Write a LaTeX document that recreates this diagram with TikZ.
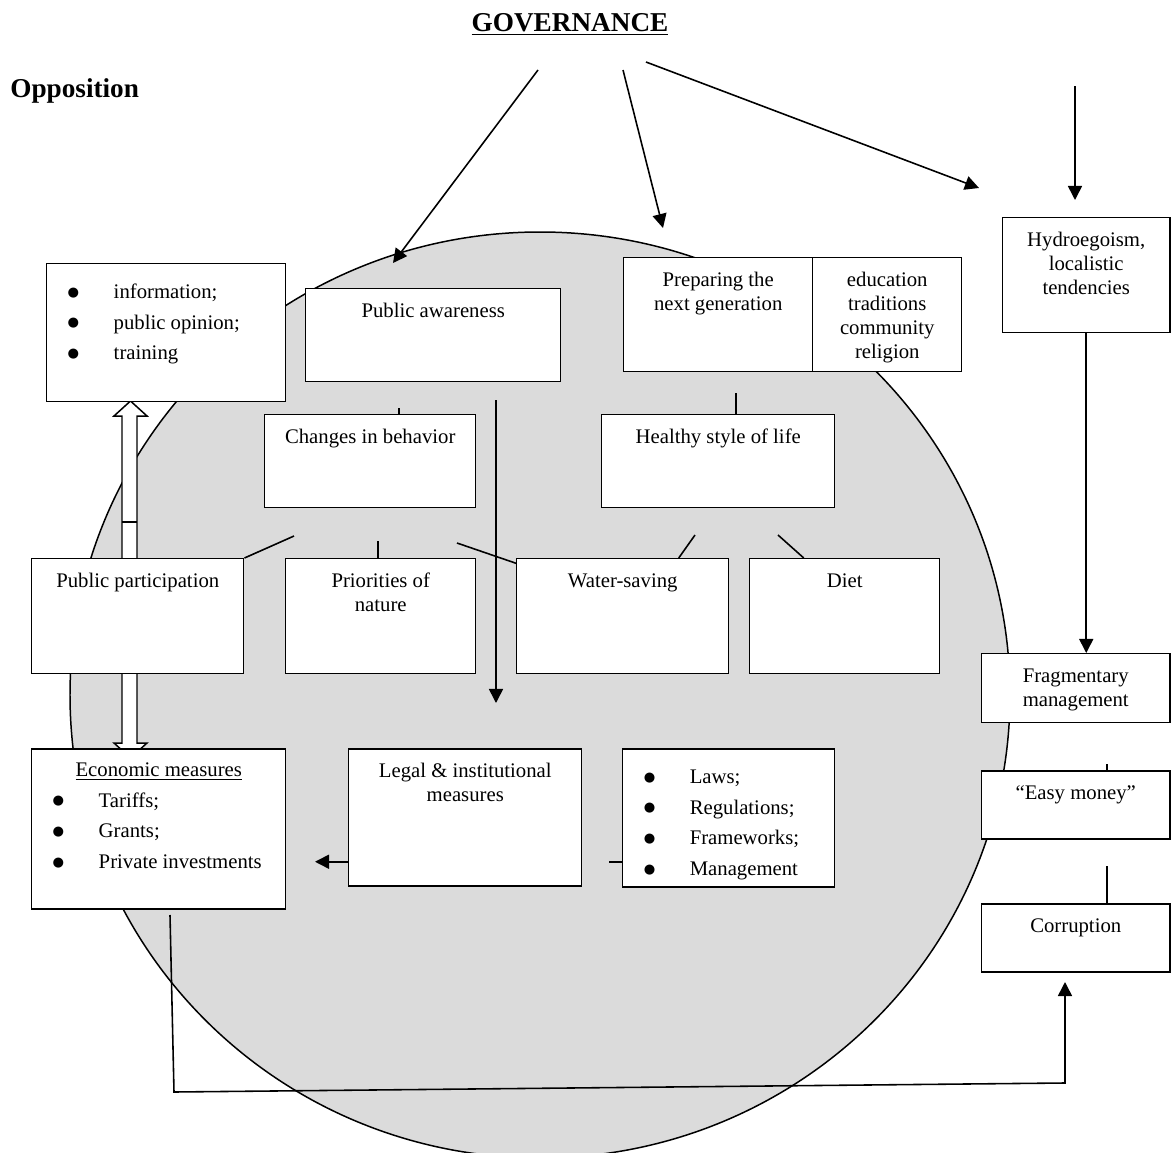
\documentclass[tikz,border=0pt]{standalone}
\usepackage{fontspec}
\setmainfont{Liberation Serif}
\newfontfamily\dotfont{DejaVu Sans}
\usetikzlibrary{arrows.meta}
\newlength\pxu
\setlength\pxu{0.02cm}
\tikzset{
    mybox/.style = {draw=black, line width=0.85pt, fill=white, anchor=north west, inner sep=0pt},
    mytitle/.style = {inner sep=0pt, font=\fontsize{15.5}{18}\bfseries\selectfont},
    edgen/.style = {-{Triangle[length=8pt,width=8pt]}, line width=0.9pt},
    linen/.style = {line width=0.9pt},
    hollow/.style = {draw=black, line width=0.85pt, fill=white},
    blob/.style = {draw=black, line width=0.85pt, fill=black!14},
}
\newcommand{\txtbox}[3]{\parbox[t][#2\pxu][t]{#1\pxu}{\centering\vspace*{7pt}\strut #3}}
\newcommand{\bullbox}[3]{\parbox[t][#2\pxu][t]{#1\pxu}{\fontsize{11.8}{17.4}\selectfont\raggedright\vspace*{7.7pt}\strut #3}}
\newcommand{\bulit}{\hspace*{21\pxu}\makebox[46\pxu][l]{\raisebox{1.3pt}{\dotfont\fontsize{7.5}{7.5}\selectfont ●}}}

\begin{document}
\begin{tikzpicture}[x=0.02cm, y=-0.02cm, font=\fontsize{11.8}{13.6}\selectfont]
\useasboundingbox (0,0) rectangle (1171,1153);
\clip (0,0) rectangle (1171,1153);
\draw[blob] (540,695) ellipse [x radius=470, y radius=463];
%
\node[mytitle, anchor=base] at (570,31) (gov) {\underline{GOVERNANCE}};
\node[mytitle, anchor=base west] at (10,97) (opp) {Opposition};
%
\coordinate (g1) at (538,70);  \coordinate (g1e) at (393,263);
\coordinate (g2) at (623,70);  \coordinate (g2e) at (663,228);
\coordinate (g3) at (646,62);  \coordinate (g3e) at (979,188);
\coordinate (o1) at (1075,86); \coordinate (o1e) at (1075,200);
\draw[edgen] (g1) -- (g1e);
\draw[edgen] (g2) -- (g2e);
\draw[edgen] (g3) -- (g3e);
\draw[edgen] (o1) -- (o1e);
%
% hollow arrows
\draw[hollow] (122,558) -- (122,416) -- (114,416) -- (130.5,401) -- (147,416) -- (137,416) -- (137,558);
\draw[linen] (122,522) -- (137,522);
\draw[hollow] (122,673) -- (122,743) -- (114,743) -- (130.5,758) -- (147,743) -- (137,743) -- (137,673);
%
\node[mybox] at (46,263) (info) {\bullbox{239}{138}{\bulit information;\\ \bulit public opinion;\\ \bulit training}};
\node[mybox] at (305,288) (pa) {\txtbox{255}{93}{Public awareness}};
\node[mybox] at (623,257) (prep) {\txtbox{189}{114}{Preparing the\\ next generation}};
\node[mybox] at (812,257) (edu) {\txtbox{149}{114}{education\\ traditions\\ community\\ religion}};
\node[mybox] at (1002,217) (hydro) {\txtbox{167}{115}{Hydroegoism,\\ localistic\\ tendencies}};
\node[mybox] at (264,414) (chg) {\txtbox{211}{93}{Changes in behavior}};
\node[mybox] at (601,414) (hsl) {\txtbox{233}{93}{Healthy style of life}};
\node[mybox] at (31,558) (pp) {\txtbox{212}{115}{Public participation}};
\node[mybox] at (285,558) (prio) {\txtbox{190}{115}{Priorities of\\ nature}};
\node[mybox] at (516,558) (ws) {\txtbox{212}{115}{Water-saving}};
\node[mybox] at (749,558) (diet) {\txtbox{190}{115}{Diet}};
\node[mybox] at (981,653) (frag) {\txtbox{188}{69}{Fragmentary\\ management}};
\node[mybox] at (31,748) (econ) {\parbox[t][160\pxu][t]{254\pxu}{\fontsize{11.8}{17.4}\selectfont\centering\vspace*{3.7pt}\strut\underline{Economic measures}\par\raggedright\bulit Tariffs;\\ \bulit Grants;\\ \bulit Private investments}};
\node[mybox] at (348,748) (legal) {\txtbox{233}{137}{Legal \& institutional\\ measures}};
\node[mybox] at (622,748) (laws) {\bullbox{212}{138}{\bulit Laws;\\ \bulit Regulations;\\ \bulit Frameworks;\\ \bulit Management}};
\node[mybox] at (981,770) (easy) {\txtbox{188}{68}{``Easy money''}};
\node[mybox] at (981,903) (corr) {\txtbox{188}{68}{Corruption}};
%
\coordinate (t1) at (399,408);
\coordinate (t2) at (736,393);
\coordinate (a1) at (496,400); \coordinate (a1e) at (496,703);
\coordinate (c1) at (294,536);
\coordinate (c2) at (378,541);
\coordinate (c3) at (457,543);
\coordinate (h1) at (695,535);
\coordinate (h2) at (778,535);
\coordinate (m1) at (1107,764);
\coordinate (m2) at (1107,866);
\coordinate (e1) at (170,915); \coordinate (e2) at (174,1092);
\coordinate (e3) at (1065,1083); \coordinate (e4) at (1065,982);
%
\draw[linen] (t1) -- (t1 |- chg.north);
\draw[linen] (t2) -- (t2 |- hsl.north);
\draw[edgen] (a1) -- (a1e);
\draw[linen] (c1) -- (pp.north east);
\draw[linen] (c2) -- (c2 |- prio.north);
\draw[linen] (c3) -- ([yshift=-3pt]ws.north west);
\draw[linen] (h1) -- ([xshift=1.12cm]ws.north);
\draw[linen] (h2) -- ([xshift=-0.82cm]diet.north);
\draw[edgen] ([yshift=-0.89cm]legal.west) -- ++(-33,0);
\draw[linen] ([yshift=-0.88cm]laws.west) -- ++(-13,0);
\draw[edgen] (hydro.south) -- (hydro.south |- frag.north);
\draw[linen] (m1) -- (m1 |- easy.north);
\draw[linen] (m2) -- (m2 |- corr.north);
\draw[edgen] (e1) -- (e2) -- (e3) -- (e4);

\end{tikzpicture}
\end{document}
